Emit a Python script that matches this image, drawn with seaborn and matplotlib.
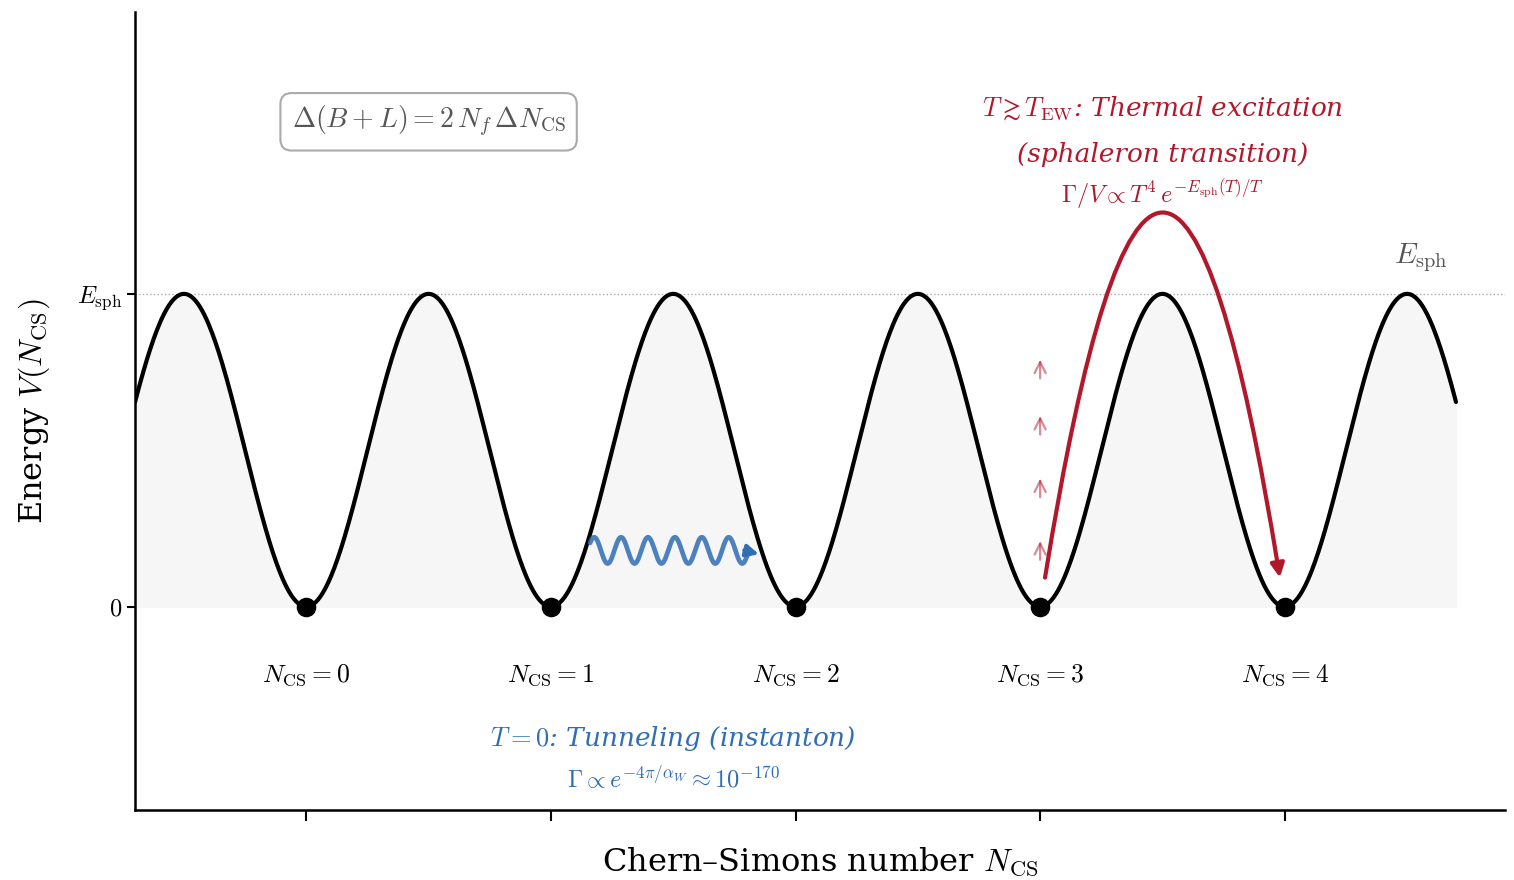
import numpy as np
import pandas as pd
import matplotlib
matplotlib.use("Agg")
import matplotlib.pyplot as plt
import seaborn as sns

# ---- data ----
vacua = [0, 1, 2, 3, 4]                      # Chern-Simons vacua
vacua_labels = [r"$N_{\rm CS}=%d$" % k for k in vacua]
E_sph = 1.0                                  # sphaleron barrier height
n_range = (-0.7, 4.7)                        # plotted N_CS range
thermal_steps = [0.15, 0.35, 0.55, 0.73]     # faint thermal kick arrows
ytick_vals = [0, E_sph]
ytick_labels = [r"$0$", r"$E_{\rm sph}$"]

RED = "#b2182b"
BLUE = "#2f6db5"

sns.set_style("ticks")
plt.rcParams["font.family"] = ["DejaVu Serif"]
plt.rcParams["mathtext.fontset"] = "cm"
for key in ["text.color", "axes.labelcolor", "xtick.color", "ytick.color",
            "axes.edgecolor"]:
    plt.rcParams[key] = "black"

fig, ax = plt.subplots(figsize=(15.14, 8.8), dpi=100)
fig.subplots_adjust(left=0.0892, right=0.994, top=0.986, bottom=0.0795)

N = np.linspace(n_range[0], n_range[1], 1200)
V = E_sph * np.sin(np.pi * N) ** 2
df = pd.DataFrame({"N": N, "V": V})

ax.fill_between(df["N"], 0, df["V"], color="#f6f6f6", zorder=0)
sns.lineplot(data=df, x="N", y="V", ax=ax, color="black", lw=3, zorder=3)
sns.scatterplot(x=vacua, y=[0] * len(vacua), ax=ax, color="black", s=170,
                zorder=5, edgecolor="black")

ax.axhline(E_sph, color="#aaaaaa", ls=":", lw=1, zorder=1)

for k, lab in zip(vacua, vacua_labels):
    ax.text(k, -0.22, lab, ha="center", va="center", fontsize=18.5)

ax.text(4.555, 1.115, r"$E_{\rm sph}$", ha="center", va="center",
        fontsize=21, color="#555555")

# Box with B+L relation
ax.text(0.50, 1.55, r"$\Delta(B+L) = 2\,N_f\,\Delta N_{\rm CS}$",
        ha="center", va="center", fontsize=20, color="#555555",
        bbox=dict(boxstyle="round,pad=0.4", fc="white", ec="#aaaaaa", lw=1.5))

# Tunneling wave
xw = np.linspace(1.16, 1.81, 500)
yw = 0.18 + 0.042 * np.sin(2 * np.pi * 6 * (xw - 1.16) / 0.66 + 0.6)
ax.plot(xw, yw, color=BLUE, lw=3.4, alpha=0.85, zorder=4)
ax.annotate("", xy=(1.85, 0.168), xytext=(1.79, 0.18),
            arrowprops=dict(arrowstyle="-|>", color=BLUE, lw=2.8,
                            mutation_scale=18, shrinkA=0, shrinkB=0), zorder=4)

ax.text(1.5, -0.42, r"$T=0$: Tunneling (instanton)", ha="center", va="center",
        fontsize=19, color=BLUE, style="italic")
ax.text(1.5, -0.55, r"$\Gamma \propto e^{-4\pi/\alpha_W} \approx 10^{-170}$",
        ha="center", va="center", fontsize=17.5, color=BLUE)

# Thermal excitation arrow
ax.annotate("", xy=(3.98, 0.093), xytext=(3.02, 0.093),
            arrowprops=dict(arrowstyle="-|>", color=RED, lw=3,
                            mutation_scale=20, shrinkA=0, shrinkB=0,
                            connectionstyle="arc3,rad=-3.1"), zorder=4)
for y0 in thermal_steps:
    ax.annotate("", xy=(3.0, y0 + 0.06), xytext=(3.0, y0),
                arrowprops=dict(arrowstyle="->", color=RED, lw=1.6, alpha=0.5,
                                mutation_scale=20, shrinkA=0, shrinkB=0))

ax.text(3.5, 1.594, r"$T \gtrsim T_{\rm EW}$: Thermal excitation",
        ha="center", va="center", fontsize=19, color=RED, style="italic")
ax.text(3.5, 1.444, "(sphaleron transition)",
        ha="center", va="center", fontsize=19, color=RED, style="italic")
ax.text(3.5, 1.32, r"$\Gamma/V \propto T^4\, e^{-E_{\rm sph}(T)/T}$",
        ha="center", va="center", fontsize=17.5, color=RED)

ax.set_xlim(-0.7, 4.9)
ax.set_ylim(-0.65, 1.9)
ax.set_xticks(vacua)
ax.set_xticklabels([])
ax.set_yticks(ytick_vals)
ax.set_yticklabels(ytick_labels, fontsize=17.5)
ax.tick_params(axis="x", length=8, width=1.5, color="black")
ax.tick_params(axis="y", length=6, width=1.5, color="black")
for s in ["left", "bottom"]:
    ax.spines[s].set_linewidth(1.8)
    ax.spines[s].set_color("black")
sns.despine(ax=ax)

ax.set_xlabel(r"Chern–Simons number $N_{\rm CS}$", fontsize=23, labelpad=14)
ax.set_ylabel(r"Energy $V(N_{\rm CS})$", fontsize=23, labelpad=18)

fig.savefig("out.png", dpi=100)
